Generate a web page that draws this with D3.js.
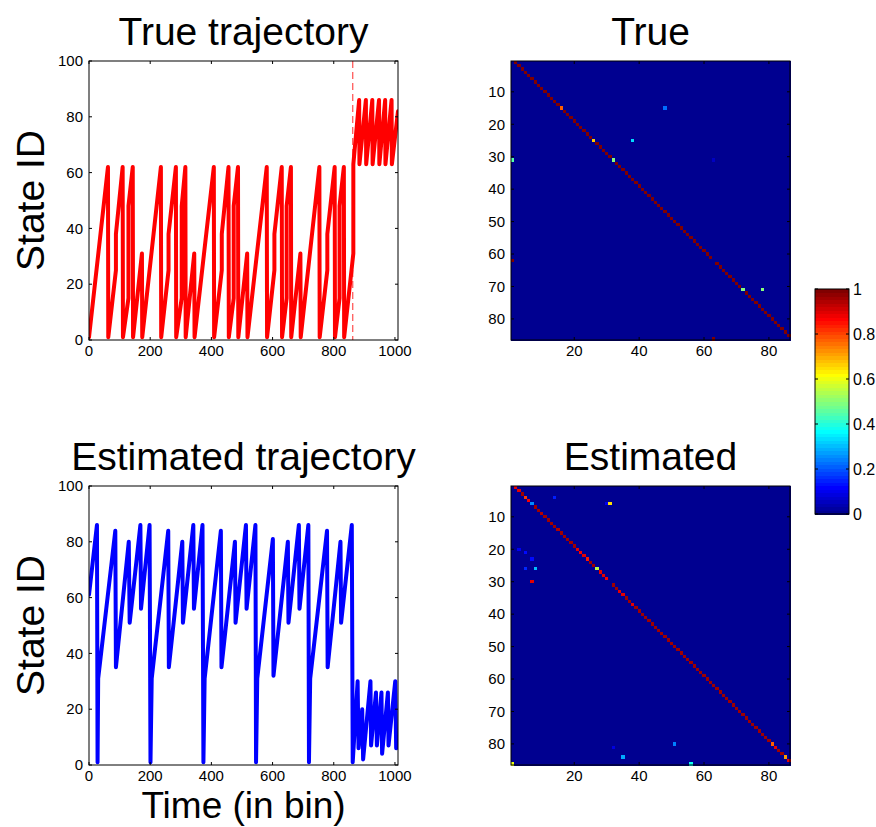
<!DOCTYPE html>
<html><head><meta charset="utf-8">
<script src="https://cdn.jsdelivr.net/npm/d3@7"></script>
<style>
body{margin:0;background:#fff;}
text{font-family:"Liberation Sans",Arial,Helvetica,sans-serif;fill:#000;}
</style></head><body>
<svg id="chart" width="876" height="827"></svg>
<script>
// ---------------- data ----------------
const trueTime = [0,62,63,88,88,110,111,129,129,143,144,173,174,
  235,236,260,260,284,285,303,303,315,316,344,345,
  408,409,434,434,456,457,473,473,487,488,517,518,
  581,582,606,606,630,631,646,646,660,661,691,692,
  753,754,779,779,803,804,819,819,833,834,864,864,
  883,884,905,906,926,927,948,949,968,969,989,990,1010];
const trueState = [1,62,1,25,38,62,1,15,48,62,1,31,1,
  62,1,25,38,62,1,15,48,62,1,31,1,
  62,1,25,38,62,1,15,48,62,1,31,1,
  62,1,25,38,62,1,15,48,62,1,31,1,
  62,1,25,38,62,1,15,48,62,1,31,63,
  86,63,86,63,86,63,86,63,86,63,86,63,82];

const estTime = [0,26,28,30,86,88,130,133,168,170,198,201,205,
  259,261,305,307,341,343,371,374,378,
  431,433,477,479,513,515,544,546,550,
  601,603,650,652,686,688,717,719,723,
  778,780,822,824,859,862,
  878,881,893,896,920,922,938,941,956,958,977,979,1001,1004];
const estState = [61,86,1,31,84,35,80,51,86,56,86,1,31,
  84,35,80,51,86,56,86,1,31,
  84,35,80,51,86,56,86,1,31,
  81,32,80,51,86,56,86,1,31,
  84,35,80,51,86,1,
  30,6,20,2,30,7,26,7,26,4,26,7,30,6];

const changeTime = 862;
const timeTicks = [0,200,400,600,800,1000];
const stateTicks = [0,20,40,60,80,100];
const matTicksY = [10,20,30,40,50,60,70,80];
const matTicksX = [20,40,60,80];
const cbTicks = [0,0.2,0.4,0.6,0.8,1];
const cbTickLabels = ["0","0.2","0.4","0.6","0.8","1"];
const nStates = 86;

// transition to next state (row i -> col i+1), rows 1..85
const trueDiag = [1,1,1,1,1,1,1,1,1,1,
  1,1,1,1,0.78,1,1,1,1,1,
  1,1,1,1,0.67,1,1,1,1,1,
  0.5,1,1,1,1,1,1,1,1,1,
  1,1,1,1,1,1,1,1,1,1,
  1,1,1,1,1,1,1,1,1,1,
  1,0,1,1,1,1,1,1,1,1,
  0.5,1,1,1,1,1,1,1,1,1,
  1,1,1,1,1];
// other entries [row, col, value]
const trueExtra = [[15,48,0.22],[25,38,0.33],[31,1,0.45],[31,63,0.05],[62,1,1],[71,78,0.5],[86,63,1]];

const estDiag = [0.9,0.9,0.97,0.82,0.88,0.25,0.97,0.97,0.95,0.97,
  0.97,0.97,0.97,0.95,0.97,0.97,0.97,0.97,0.97,0.9,
  0.88,0.9,0.85,0.97,0.97,0.55,0.9,0.9,0.88,0,
  0.97,0.97,0.9,0.9,0.97,0.97,0.9,0.97,0.97,0.97,
  0.97,0.97,0.97,0.97,0.97,0.97,0.97,0.97,0.97,0.97,
  0.97,0.97,0.97,0.97,0.97,0.97,0.97,0.97,0.97,0.97,
  0.97,0.97,0.97,0.97,0.97,0.97,0.97,0.97,0.97,0.97,
  0.97,0.97,0.97,0.97,0.97,0.97,0.97,0.97,0.97,0.78,
  0.9,0.97,0.97,0.72,0.9];
const estExtra = [[4,14,0.14],[6,30,0.1],[6,31,0.65],[20,3,0.1],[21,5,0.12],[23,7,0.12],
  [26,5,0.15],[26,8,0.3],[30,7,0.9],[80,51,0.24],[81,32,0.08],[84,35,0.28],[86,1,0.6],[86,56,0.38]];

// MATLAB jet colour stops
const jetStops = [0, 7/63, 23/63, 39/63, 55/63, 1];
const jetColors = ["#000090","#0000ff","#00ffff","#ffff00","#ff0000","#800000"];

// ---------------- drawing ----------------
const svg = d3.select("#chart");
const jet = d3.scaleLinear().domain(jetStops).range(jetColors).interpolate(d3.interpolateRgb).clamp(true);
const FS = 15, TFS = 39;

function buildMatrix(diag, extra){
  const m = [];
  for(let r=1;r<=nStates;r++) for(let c=1;c<=nStates;c++) m.push({r,c,v:0});
  diag.forEach((v,i)=>{ m[i*nStates + (i+1)].v = v; });
  extra.forEach(([r,c,v])=>{ m[(r-1)*nStates + (c-1)].v = v; });
  return m;
}

function tickMarks(g, x0,x1,y0,y1, xs, xv, ys, yv, len){
  xv.forEach(v=>{
    const x = xs(v);
    g.append("line").attr("x1",x).attr("x2",x).attr("y1",y1).attr("y2",y1-len).attr("stroke","#000");
    g.append("line").attr("x1",x).attr("x2",x).attr("y1",y0).attr("y2",y0+len).attr("stroke","#000");
  });
  yv.forEach(v=>{
    const y = ys(v);
    g.append("line").attr("x1",x0).attr("x2",x0+len).attr("y1",y).attr("y2",y).attr("stroke","#000");
    g.append("line").attr("x1",x1).attr("x2",x1-len).attr("y1",y).attr("y2",y).attr("stroke","#000");
  });
}

function trajPanel(top, times, states, color, title, showDash, showXLabel, id){
  const x0=89, x1=398, y0=top, y1=top+279;
  const xs = d3.scaleLinear().domain([0,1010]).range([x0,x1]);
  const ys = d3.scaleLinear().domain([0,100]).range([y1,y0]);
  const g = svg.append("g");
  g.append("clipPath").attr("id",id).append("rect").attr("x",x0).attr("y",y0).attr("width",x1-x0).attr("height",y1-y0);
  const pts = times.map((t,i)=>[t,states[i]]);
  const line = d3.line().x(d=>xs(d[0])).y(d=>ys(d[1]));
  if(showDash){
    g.append("line").attr("x1",xs(changeTime)).attr("x2",xs(changeTime)).attr("y1",y0).attr("y2",y1)
      .attr("stroke","#ff5a5a").attr("stroke-width",1.3).attr("stroke-dasharray","7,4");
  }
  g.append("path").datum(pts).attr("d",line).attr("fill","none").attr("stroke",color)
    .attr("stroke-width",4).attr("stroke-linejoin","round").attr("stroke-linecap","round")
    .attr("clip-path",`url(#${id})`);
  g.append("rect").attr("x",x0).attr("y",y0).attr("width",x1-x0).attr("height",y1-y0)
    .attr("fill","none").attr("stroke","#000").attr("stroke-width",1);
  tickMarks(g,x0,x1,y0,y1,xs,timeTicks,ys,stateTicks,3);
  g.selectAll(".xt").data(timeTicks).enter().append("text")
    .attr("x",d=>xs(d)).attr("y",y1+16).attr("text-anchor","middle").attr("font-size",FS).text(d=>d);
  g.selectAll(".yt").data(stateTicks).enter().append("text")
    .attr("x",x0-6).attr("y",d=>ys(d)).attr("dy","0.35em").attr("text-anchor","end").attr("font-size",FS).text(d=>d);
  g.append("text").attr("x",(x0+x1)/2).attr("y",y0-16).attr("text-anchor","middle").attr("font-size",TFS).text(title);
  g.append("text").attr("transform",`translate(44,${(y0+y1)/2}) rotate(-90)`).attr("text-anchor","middle")
    .attr("font-size",TFS).text("State ID");
  if(showXLabel){
    g.append("text").attr("x",(x0+x1)/2).attr("y",818).attr("text-anchor","middle").attr("font-size",37).text("Time (in bin)");
  }
}

function matPanel(top, diag, extra, title){
  const x0=511, x1=790, y0=top, y1=top+279;
  const xs = d3.scaleLinear().domain([0.5,nStates+0.5]).range([x0,x1]);
  const ys = d3.scaleLinear().domain([0.5,nStates+0.5]).range([y0,y1]);
  const g = svg.append("g");
  const data = buildMatrix(diag, extra);
  g.selectAll("rect.cell").data(data).enter().append("rect").attr("class","cell")
    .attr("x",d=>xs(d.c-0.5)).attr("y",d=>ys(d.r-0.5))
    .attr("width",xs(1.5)-xs(0.5)+0.6).attr("height",ys(1.5)-ys(0.5)+0.6)
    .attr("fill",d=>jet(d.v)).attr("shape-rendering","crispEdges");
  g.append("rect").attr("x",x0).attr("y",y0).attr("width",x1-x0).attr("height",y1-y0)
    .attr("fill","none").attr("stroke","#000").attr("stroke-width",1);
  tickMarks(g,x0,x1,y0,y1,xs,matTicksX,ys,matTicksY,3);
  g.selectAll(".xt").data(matTicksX).enter().append("text")
    .attr("x",d=>xs(d)).attr("y",y1+16).attr("text-anchor","middle").attr("font-size",FS).text(d=>d);
  g.selectAll(".yt").data(matTicksY).enter().append("text")
    .attr("x",x0-6).attr("y",d=>ys(d)).attr("dy","0.35em").attr("text-anchor","end").attr("font-size",FS).text(d=>d);
  g.append("text").attr("x",(x0+x1)/2).attr("y",y0-16).attr("text-anchor","middle").attr("font-size",TFS).text(title);
}

trajPanel(61, trueTime, trueState, "#ff0000", "True trajectory", true, false, "c1");
trajPanel(486, estTime, estState, "#0000ff", "Estimated trajectory", false, true, "c2");
matPanel(61, trueDiag, trueExtra, "True");
matPanel(486, estDiag, estExtra, "Estimated");

// colorbar
(function(){
  const x0=815, x1=849, yTop=289, yBot=514;
  const cs = d3.scaleLinear().domain([0,1]).range([yBot,yTop]);
  const g = svg.append("g");
  const levels = d3.range(64);
  g.selectAll("rect.cb").data(levels).enter().append("rect")
    .attr("x",x0).attr("width",x1-x0)
    .attr("y",d=>cs((d+1)/64)).attr("height",cs(0)-cs(1/64)+0.5)
    .attr("fill",d=>jet(d/63)).attr("shape-rendering","crispEdges");
  g.append("rect").attr("x",x0).attr("y",yTop).attr("width",x1-x0).attr("height",yBot-yTop)
    .attr("fill","none").attr("stroke","#000");
  cbTicks.forEach(v=>{
    g.append("line").attr("x1",x1).attr("x2",x1-3).attr("y1",cs(v)).attr("y2",cs(v)).attr("stroke","#000");
    g.append("line").attr("x1",x0).attr("x2",x0+3).attr("y1",cs(v)).attr("y2",cs(v)).attr("stroke","#000");
  });
  g.selectAll("text").data(cbTicks).enter().append("text")
    .attr("x",x1+4).attr("y",d=>cs(d)).attr("dy","0.35em").attr("font-size",FS+1)
    .text((d,i)=>cbTickLabels[i]);
})();
</script>
</body></html>
